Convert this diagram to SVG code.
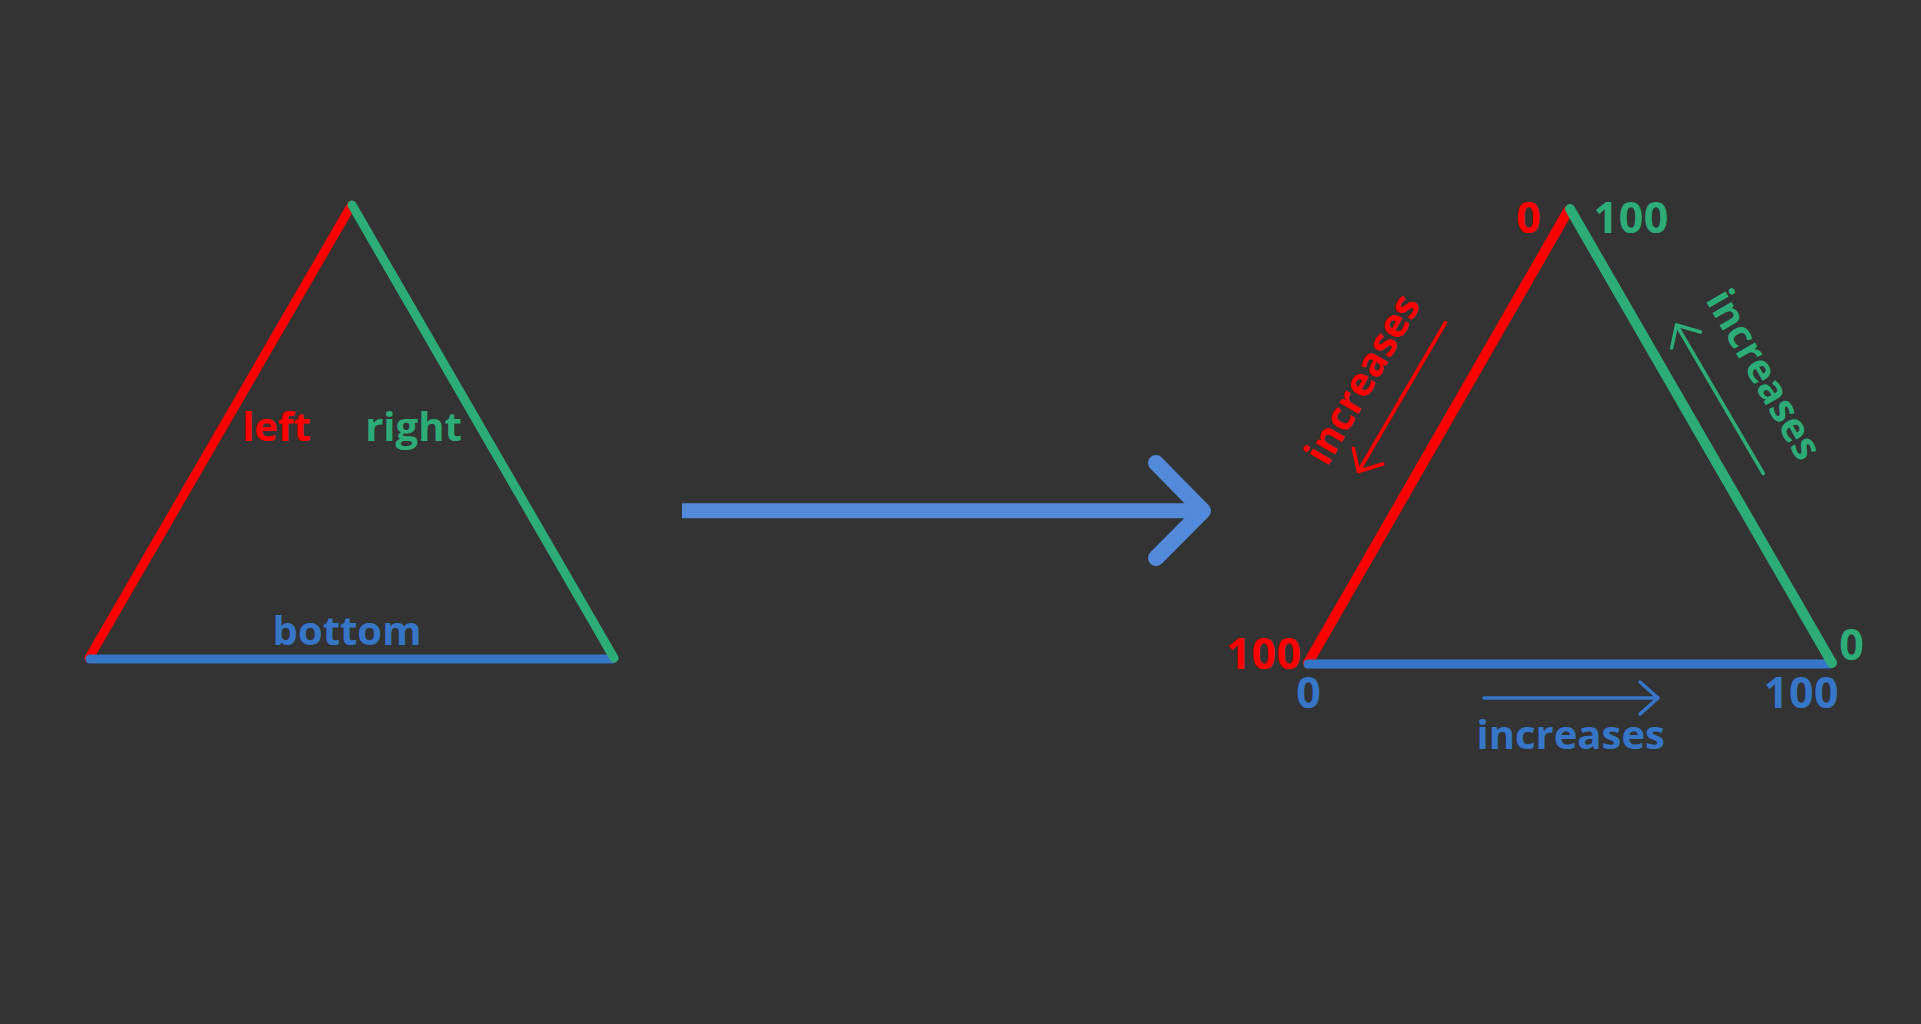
<svg xmlns="http://www.w3.org/2000/svg" width="1921" height="1024" viewBox="0 0 1921 1024">
  <style>
    .bg { fill: #333333; }
    .edge { fill: none; stroke-width: 9; stroke-linecap: round; }
    .thick { stroke-width: 10; }
    .red { stroke: #ff0000; }
    .green { stroke: #2eac78; }
    .blue { stroke: #3776c6; }
    .small { fill: none; stroke-width: 3.5; stroke-linecap: round; stroke-linejoin: round; }
    .lbl { font-family: "Open Sans", "Liberation Sans", sans-serif; font-weight: 700; font-size: 40px; text-anchor: middle; }
    .num { font-size: 43px; letter-spacing: 0.5px; }
    .tr { fill: #ff0000; }
    .tg { fill: #2eac78; }
    .tb { fill: #3776c6; }
  </style>
  <rect class="bg" x="0" y="0" width="1921" height="1024"/>

  <g id="triangle-plain">
    <line class="edge red" x1="89" y1="658" x2="351" y2="206"/>
    <line class="edge blue" x1="90" y1="659" x2="612" y2="659"/>
    <line class="edge green" x1="352" y1="205" x2="614" y2="658"/>
    <text class="lbl tr" x="276.5" y="441">left</text>
    <text class="lbl tg" x="413.5" y="441">right</text>
    <text class="lbl tb" x="347" y="645">bottom</text>
  </g>

  <g id="connectors">
    <line x1="682" y1="510.8" x2="1200" y2="510.8" stroke="#5289d8" stroke-width="15" stroke-linecap="butt"/>
    <polyline points="1156,463 1203,510.8 1156,558" fill="none" stroke="#5289d8" stroke-width="16" stroke-linecap="round" stroke-linejoin="round"/>
  </g>

  <g id="triangle-scaled">
    <line class="edge thick red" x1="1308" y1="663" x2="1568" y2="211"/>
    <line class="edge blue" x1="1308" y1="664" x2="1830" y2="664"/>
    <line class="edge thick green" x1="1570" y1="209" x2="1832" y2="663"/>
    <text class="lbl num tr" x="1528.7" y="233">0</text>
    <text class="lbl num tg" x="1631.2" y="233">100</text>
    <text class="lbl num tr" x="1264" y="669">100</text>
    <text class="lbl num tb" x="1308.7" y="708">0</text>
    <text class="lbl num tb" x="1801.5" y="708">100</text>
    <text class="lbl num tg" x="1851.7" y="660">0</text>
  </g>

  <g id="left-increases">
    <line class="small red" x1="1445.5" y1="322.5" x2="1358.5" y2="471.5"/>
    <polyline class="small red" points="1353.3,448.3 1358.5,471.5 1382.7,464"/>
    <text class="lbl tr" transform="translate(1374,386) rotate(-60)" x="0" y="0">increases</text>
  </g>

  <g id="right-increases">
    <line class="small green" x1="1763.3" y1="473.5" x2="1676.5" y2="325"/>
    <polyline class="small green" points="1671.7,348 1676.5,325 1700.5,332"/>
    <text class="lbl tg" transform="translate(1752,381.3) rotate(60)" x="0" y="0">increases</text>
  </g>

  <g id="bottom-increases">
    <line class="small blue" x1="1484" y1="698" x2="1658" y2="698"/>
    <polyline class="small blue" points="1640,682 1658,698 1640,714"/>
    <text class="lbl tb" x="1570.7" y="749">increases</text>
  </g>
</svg>
